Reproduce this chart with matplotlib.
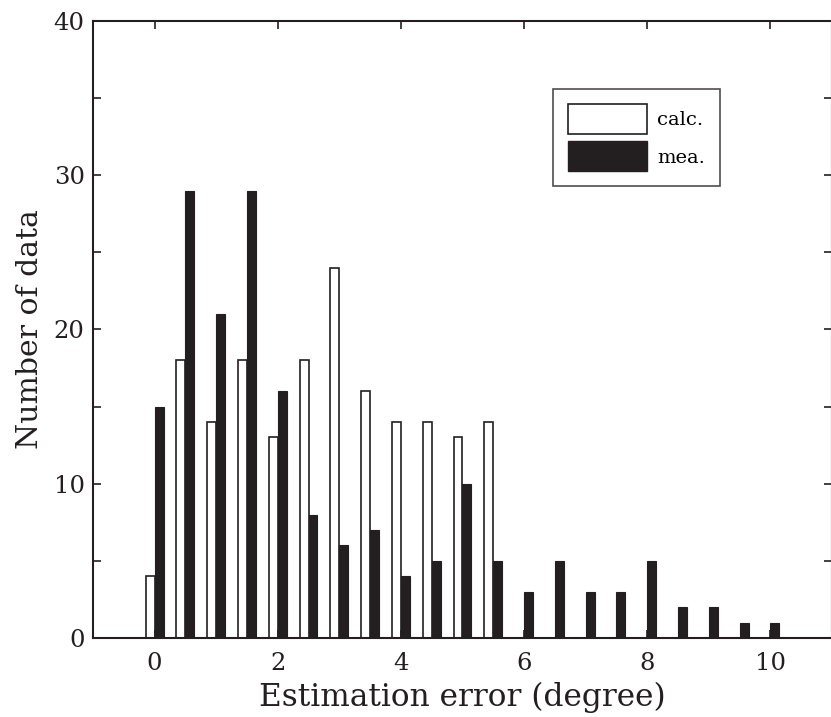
import numpy as np
import matplotlib.pyplot as plt
from matplotlib.patches import Patch

# bin centres (degree) and counts
bins = [0, 0.5, 1, 1.5, 2, 2.5, 3, 3.5, 4, 4.5, 5, 5.5, 6, 6.5, 7, 7.5, 8, 8.5, 9, 9.5, 10]
calc = [4, 18, 14, 18, 13, 18, 24, 16, 14, 14, 13, 14, 0, 0, 0, 0, 0, 0, 0, 0, 0]
mea = [15, 29, 21, 29, 16, 8, 6, 7, 4, 5, 10, 5, 3, 5, 3, 3, 5, 2, 2, 1, 1]

plt.rcParams['font.family'] = ['DejaVu Serif']
dark = '#231f20'

fig = plt.figure(figsize=(8.31, 7.17), dpi=100)
ax = fig.add_axes([0.1119, 0.1102, 0.8893, 0.8605])

x = np.array(bins)
w = 0.145
ax.bar(x - w / 2, calc, w, color='white', edgecolor=dark, linewidth=1.2, label='calc.')
ax.bar(x + w / 2, mea, w, color=dark, edgecolor=dark, linewidth=0.8, label='mea.')

ax.set_xlim(-1, 11)
ax.set_ylim(0, 40)
ax.set_xticks([0, 2, 4, 6, 8, 10])
ax.set_yticks([0, 10, 20, 30, 40])
ax.set_yticks([5, 15, 25, 35], minor=True)
ax.tick_params(direction='in', top=True, right=True, length=6, width=1.2,
               labelsize=17.5, colors=dark)
ax.tick_params(axis='x', pad=10)
ax.tick_params(axis='y', pad=6)
ax.tick_params(which='minor', direction='in', right=True, length=6, width=1.2, colors=dark)
for s in ax.spines.values():
    s.set_linewidth(1.5)
    s.set_color(dark)

ax.set_xlabel('Estimation error (degree)', fontsize=22.5, color=dark, labelpad=5)
ax.set_ylabel('Number of data', fontsize=21.5, color=dark, labelpad=7)

handles = [Patch(facecolor='white', edgecolor=dark, linewidth=1.2),
           Patch(facecolor=dark, edgecolor=dark)]
leg = ax.legend(handles, ['calc.', 'mea.'], loc='upper left',
                bbox_to_anchor=(0.6225, 0.8898), borderaxespad=0, fontsize=14,
                frameon=True, fancybox=False, edgecolor=dark,
                handlelength=4.1, handleheight=2.0, borderpad=0.75,
                labelspacing=0.4, handletextpad=0.5)
leg.get_frame().set_linewidth(1.2)

fig.savefig('out.png', dpi=100)
